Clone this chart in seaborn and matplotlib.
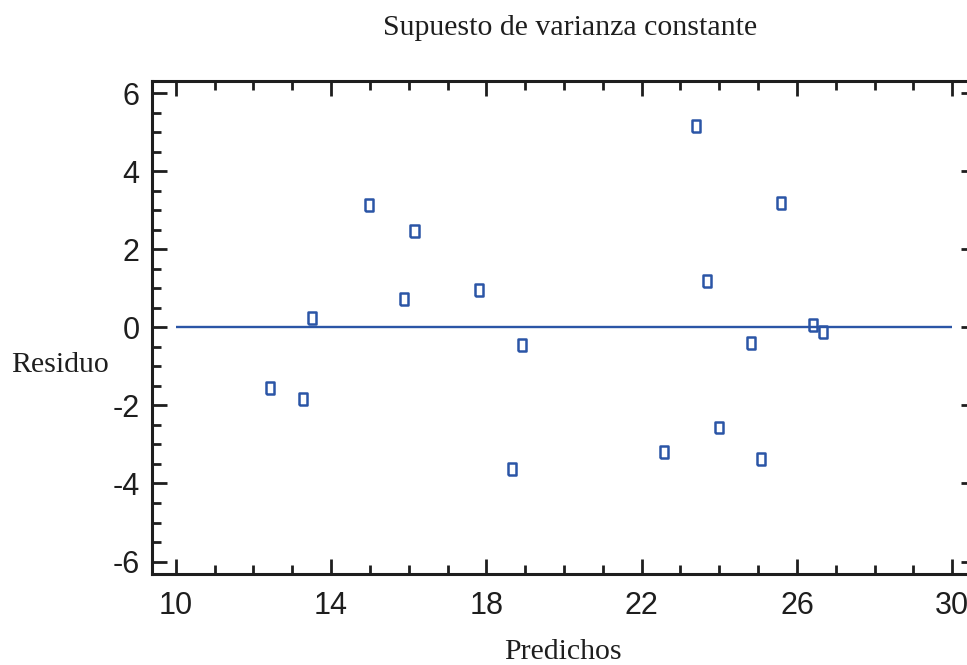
import matplotlib
matplotlib.use("Agg")
import matplotlib.pyplot as plt
import matplotlib.ticker as mticker
import pandas as pd
import seaborn as sns

# Residuals vs predicted values
PREDICHOS = [12.42, 13.27, 13.52, 14.99, 15.87, 16.15, 17.82, 18.67, 18.93,
             22.58, 23.40, 23.69, 24.00, 24.82, 25.08, 25.59, 26.41, 26.67]
RESIDUOS = [-1.55, -1.83, 0.24, 3.14, 0.73, 2.47, 0.96, -3.63, -0.45,
            -3.19, 5.16, 1.19, -2.57, -0.40, -3.37, 3.19, 0.06, -0.12]

X_TICKS = [10, 14, 18, 22, 26, 30]
Y_TICKS = [-6, -4, -2, 0, 2, 4, 6]
ZERO_SPAN = (10, 30)

BLUE = "#2b55a6"
INK = "#1e1e1e"
SERIF = ["Liberation Serif", "DejaVu Serif"]
NARROW = ["Liberation Sans Narrow", "Liberation Sans", "DejaVu Sans"]

sns.set_theme(style="white")
plt.rcParams["font.family"] = NARROW

df = pd.DataFrame({"pred": PREDICHOS, "res": RESIDUOS})

fig = plt.figure(figsize=(9.67, 6.65), dpi=100)
ax = fig.add_axes([0.1572, 0.1368, 0.8521, 0.7418])

# tall, narrow hollow box marker
box = [(-0.7, -1), (0.7, -1), (0.7, 1), (-0.7, 1), (-0.7, -1)]
sns.scatterplot(data=df, x="pred", y="res", ax=ax, marker=box, s=68,
                facecolor="none", edgecolor=BLUE, linewidth=1.8, zorder=3)
ax.hlines(0, *ZERO_SPAN, color=BLUE, linewidth=1.7, zorder=2)

ax.set_xlim(9.39, 30.61)
ax.set_ylim(-6.32, 6.32)
ax.set_xticks(X_TICKS)
ax.set_yticks(Y_TICKS)
ax.set_xticklabels([str(v) for v in X_TICKS])
ax.set_yticklabels([str(v) for v in Y_TICKS])
ax.xaxis.set_minor_locator(mticker.MultipleLocator(1))
ax.yaxis.set_minor_locator(mticker.MultipleLocator(0.5))

for side in ["left", "right", "top", "bottom"]:
    ax.spines[side].set_visible(True)
    ax.spines[side].set_color(INK)
    ax.spines[side].set_linewidth(2.2)

ax.tick_params(which="both", direction="in", top=True, right=True,
               bottom=True, left=True, color=INK, width=2.0, labelcolor=INK)
ax.tick_params(which="major", length=11, labelsize=22, pad=9)
ax.tick_params(which="minor", length=6.5)
ax.tick_params(axis="x", which="major", pad=12)

ax.set_xlabel("")
ax.set_ylabel("")
fig.text(0.59, 0.958, "Supuesto de varianza constante", family=SERIF,
         fontsize=21.5, ha="center", va="center", color=INK)
fig.text(0.062, 0.451, "Residuo", family=SERIF, fontsize=21.5,
         ha="center", va="center", color=INK)
fig.text(0.582, 0.019, "Predichos", family=SERIF, fontsize=21.5,
         ha="center", va="center", color=INK)

fig.savefig("out.png", dpi=100)
